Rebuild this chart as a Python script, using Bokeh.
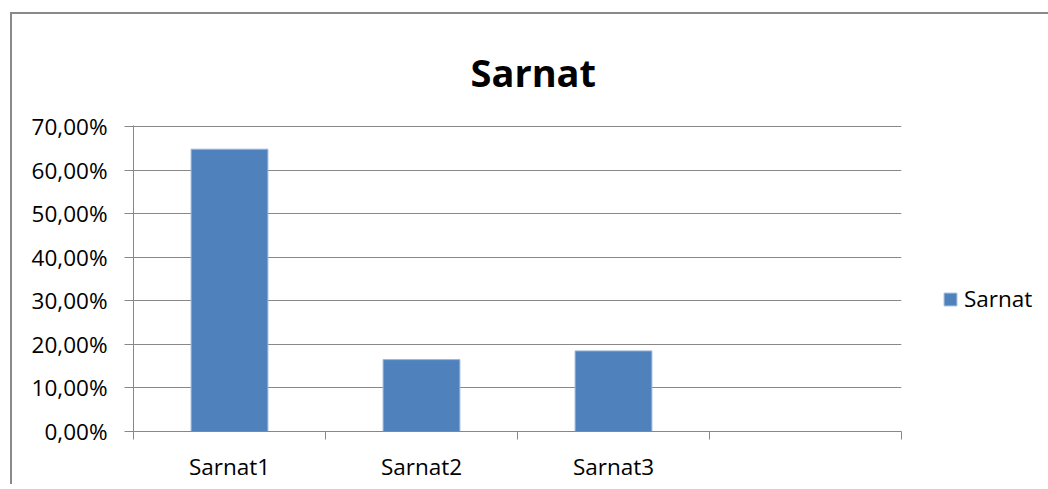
from bokeh.plotting import figure
from bokeh.models import (Range1d, LinearAxis, FixedTicker,
                          CustomJSTickFormatter, Legend, LegendItem, ColumnDataSource)
from bokeh.embed import file_html
from bokeh.resources import INLINE

# ---- data ----
categories = ["Sarnat1", "Sarnat2", "Sarnat3", ""]
values = [0.648, 0.165, 0.185]
series_name = "Sarnat"
title_text = "Sarnat"
y_ticks = [0.0, 0.1, 0.2, 0.3, 0.4, 0.5, 0.6, 0.7]

FONT = "Open Sans"
GRAY = "#888888"
BAR = "#4F81BD"

n_cat = len(categories)
centers = [i + 0.5 for i in range(n_cat)]
edges = [float(i) for i in range(n_cat + 1)]
label_ticks = [c for c, name in zip(centers, categories) if name]

src = ColumnDataSource(dict(x=centers[:len(values)], top=values))

p = figure(frame_width=768, frame_height=306,
           x_range=Range1d(0, n_cat),
           y_range=Range1d(0, 0.7023),
           x_axis_location=None,
           output_backend="svg", toolbar_location=None,
           min_border_left=121, min_border_right=140,
           min_border_top=111, min_border_bottom=50)
p.styles = {"margin-left": "10px", "margin-top": "12px",
            "border-left": "2px solid #8A8A8A", "border-top": "2px solid #8A8A8A"}
p.outline_line_color = None
p.background_fill_color = "white"
p.border_fill_color = "white"

r = p.vbar(x="x", top="top", width=0.4, source=src, fill_color=BAR, line_color="#9DB5D8", line_width=1)

# title
p.title.text = title_text
p.title.align = "left"
p.title.text_font = FONT
p.title.text_font_size = "38px"
p.title.text_font_style = "bold"
p.title.text_color = "black"
p.title.offset = 337
p.title.standoff = 55

# y axis
yt = FixedTicker(ticks=y_ticks)
p.yaxis.ticker = yt
p.ygrid.ticker = yt
p.yaxis.formatter = CustomJSTickFormatter(code="return (tick*100).toFixed(2).replace('.', ',') + '%';")
p.yaxis.axis_line_color = GRAY
p.yaxis.major_tick_line_color = GRAY
p.yaxis.major_tick_in = 0
p.yaxis.major_tick_out = 9
p.yaxis.minor_tick_line_color = None
p.yaxis.major_label_standoff = 17
p.yaxis.major_label_text_font = FONT
p.yaxis.major_label_text_font_size = "22.5px"
p.yaxis.major_label_text_color = "black"
p.ygrid.grid_line_color = GRAY
p.xgrid.visible = False

# x axis: labels at category centres, minor ticks at category edges
x_axis = LinearAxis(ticker=FixedTicker(ticks=label_ticks, minor_ticks=edges),
                    major_label_overrides={c: name for c, name in zip(centers, categories) if name},
                    axis_line_color=GRAY, major_tick_line_color=None,
                    major_tick_in=0, major_tick_out=0,
                    minor_tick_line_color=GRAY, minor_tick_in=0, minor_tick_out=8,
                    major_label_standoff=11,
                    major_label_text_font=FONT, major_label_text_font_size="22.5px",
                    major_label_text_color="black")
p.add_layout(x_axis, "below")

# legend
legend = Legend(items=[LegendItem(label=series_name, renderers=[r])],
                location=(41, 117), glyph_width=16, glyph_height=16, label_standoff=6,
                padding=0, margin=0, spacing=0, border_line_color=None,
                background_fill_alpha=0, label_text_font=FONT, label_text_font_size="22.5px",
                label_text_color="black")
p.add_layout(legend, "right")

open("out.html", "w").write(file_html(p, INLINE))
